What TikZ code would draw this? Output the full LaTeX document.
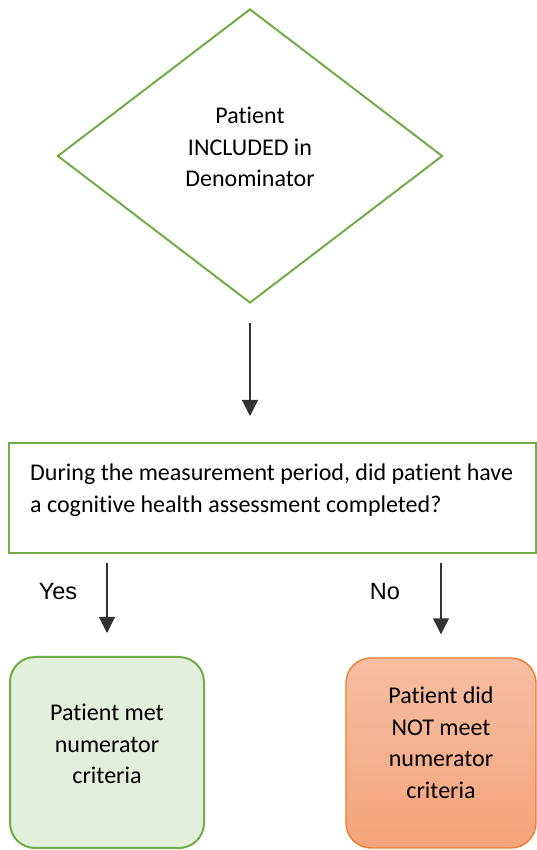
\documentclass[tikz,border=0pt]{standalone}
\usepackage{fontspec}
\setmainfont{Carlito}[Ligatures={NoCommon}]
\newfontfamily\arialfont{Liberation Sans}
\usetikzlibrary{shapes.geometric,arrows.meta}
\definecolor{ggreen}{HTML}{70AD47}
\definecolor{gfill}{HTML}{E2EFDA}
\definecolor{oline}{HTML}{ED7D31}
\definecolor{otop}{HTML}{F6BEA3}
\definecolor{obot}{HTML}{F4A47B}
\begin{document}
\begin{tikzpicture}[x=1pt,y=1pt,
  txt/.style={font=\fontsize{24}{31.5}\selectfont, inner sep=0pt, align=center},
  lab/.style={font=\arialfont\fontsize{23.5}{28}\selectfont, inner sep=0pt},
  arr/.style={draw=black!80, line width=1.2pt, -{Triangle[width=16pt,length=16pt]}},
  gbox/.style={draw=ggreen, line width=2pt, rounded corners=25pt, fill=gfill},
  obox/.style={draw=oline, line width=1.4pt, rounded corners=25pt, top color=otop, bottom color=obot}]
\useasboundingbox (0,0) rectangle (537,850);
% diamond
\node[diamond, draw=ggreen, line width=2pt, minimum width=385pt, minimum height=294pt, inner sep=0pt] (dia) at (250,694) {};
\node[txt] (diat) at (250,703) {Patient\\INCLUDED in\\Denominator};
% question box
\node[draw=ggreen, line width=2pt, minimum width=527pt, minimum height=110pt, inner sep=0pt] (q) at (272.5,352) {};
\node[txt, align=left, anchor=west] (qt) at (30,360) {During the measurement period, did patient have\\a cognitive health assessment completed?};
% outcomes
\node[gbox, minimum width=194pt, minimum height=191pt] (yesbox) at (107,97.5) {};
\node[txt] (yest) at (107,106) {Patient met\\numerator\\criteria};
\node[obox, minimum width=190pt, minimum height=190pt] (nobox) at (441,97) {};
\node[txt] (not) at (441,107) {Patient did\\NOT meet\\numerator\\criteria};
% labels
\node[lab] (ylab) at (58,258) {Yes};
\node[lab] (nlab) at (385,258) {No};
% arrows
\draw[arr] ([yshift=-19pt]dia.south) -- ([yshift=26pt]dia.south |- q.north);
\draw[arr] ([yshift=-9pt]q.south -| yesbox.center) -- ([yshift=23pt]yesbox.north);
\draw[arr] ([yshift=-9pt]q.south -| nobox.center) -- ([yshift=23pt]nobox.north);
\end{tikzpicture}
\end{document}
